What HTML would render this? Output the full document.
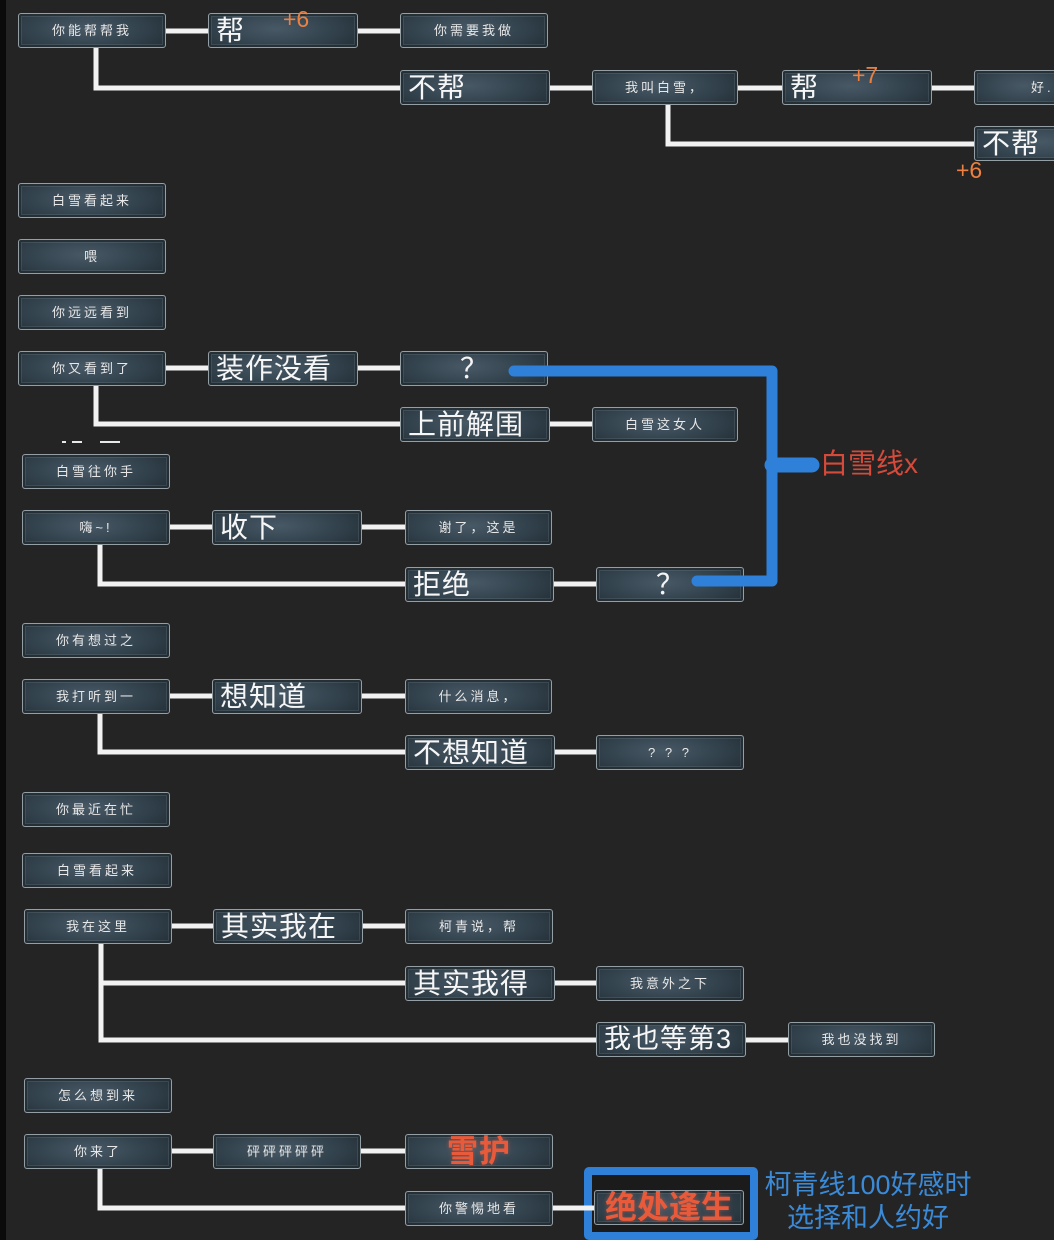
<!DOCTYPE html>
<html><head><meta charset="utf-8"><style>
html,body{margin:0;padding:0;}
body{width:1054px;height:1240px;position:relative;overflow:hidden;background:#242424;font-family:"Liberation Sans","Noto Sans CJK SC",sans-serif;}
.strip{position:absolute;left:0;top:0;width:6px;height:1240px;background:#0b0b0b;}
svg{position:absolute;left:0;top:0;}
.n{position:absolute;height:33px;border:1px solid #939ea5;border-radius:3px;box-sizing:content-box;
background:radial-gradient(ellipse 65% 90% at 45% 45%,#485966 0%,#34444f 55%,#25313a 100%);
box-shadow:inset 0 0 0 2px rgba(30,40,46,.8),inset 0 0 0 3px rgba(150,160,168,.18);
color:#e8e8e8;font-size:13px;letter-spacing:3px;line-height:33px;text-align:center;white-space:nowrap;overflow:hidden;}
.b{font-size:28px;letter-spacing:1px;text-align:left;padding-left:7px;width:141px!important;color:#f6f6f6;}
.q{font-size:28px;color:#f4f4f4;letter-spacing:0;}
.r{font-size:31px;font-weight:bold;color:#e85a3a;letter-spacing:1px;text-shadow:0 0 4px rgba(230,90,60,.5);}
.o{position:absolute;color:#ec8040;font-size:23px;line-height:23px;}
.mk{position:absolute;height:2px;background:#e8e8e8;}
</style></head><body>
<div class="strip"></div>
<svg width="1054" height="1240">
<g stroke="#f2f2f2" stroke-width="5" fill="none" stroke-linejoin="miter">
<path d="M166 31H208M356 31H400M96 48V88H400M548 88H592M738 88H782M930 88H974M668 104V144H974"/>
<path d="M166 368H208M356 368H400M96 385V424H400M548 424H592"/>
<path d="M170 527H212M360 527H405M100 544V584H405M552 584H596"/>
<path d="M170 696H212M360 696H405M100 713V752H405M552 752H596"/>
<path d="M172 926H213M361 926H405M101 943V1040H596M101 983H405M553 983H596M744 1040H788"/>
<path d="M172 1151H213M361 1151H405M100 1168V1208H405M553 1208H596"/>
</g>
</svg>
<div class="mk" style="left:62px;top:441px;width:4px"></div>
<div class="mk" style="left:72px;top:441px;width:10px"></div>
<div class="mk" style="left:100px;top:441px;width:20px"></div>

<!-- row 1 -->
<div class="n" style="left:18px;top:13px;width:146px">你能帮帮我</div>
<div class="n b" style="left:208px;top:13px">帮</div>
<div class="o" style="left:283px;top:8px">+6</div>
<div class="n" style="left:400px;top:13px;width:146px">你需要我做</div>
<div class="n b" style="left:400px;top:70px">不帮</div>
<div class="n" style="left:592px;top:70px;width:144px">我叫白雪，</div>
<div class="n b" style="left:782px;top:70px">帮</div>
<div class="o" style="left:852px;top:64px">+7</div>
<div class="n" style="left:974px;top:70px;width:110px;text-align:left;padding-left:56px;box-sizing:border-box;height:35px">好..</div>
<div class="n b" style="left:974px;top:126px">不帮</div>
<div class="o" style="left:956px;top:159px">+6</div>

<div class="n" style="left:18px;top:183px;width:146px">白雪看起来</div>
<div class="n" style="left:18px;top:239px;width:146px">喂</div>
<div class="n" style="left:18px;top:295px;width:146px">你远远看到</div>

<div class="n" style="left:18px;top:351px;width:146px">你又看到了</div>
<div class="n b" style="left:208px;top:351px">装作没看</div>
<div class="n q" style="left:400px;top:351px;width:146px">？</div>
<div class="n b" style="left:400px;top:407px">上前解围</div>
<div class="n" style="left:592px;top:407px;width:144px">白雪这女人</div>

<div class="n" style="left:22px;top:454px;width:146px">白雪往你手</div>
<div class="n" style="left:22px;top:510px;width:146px">嗨~!</div>
<div class="n b" style="left:212px;top:510px">收下</div>
<div class="n" style="left:405px;top:510px;width:145px">谢了，这是</div>
<div class="n b" style="left:405px;top:567px;width:140px!important">拒绝</div>
<div class="n q" style="left:596px;top:567px;width:146px">？</div>

<div class="n" style="left:22px;top:623px;width:146px">你有想过之</div>
<div class="n" style="left:22px;top:679px;width:146px">我打听到一</div>
<div class="n b" style="left:212px;top:679px">想知道</div>
<div class="n" style="left:405px;top:679px;width:145px">什么消息，</div>
<div class="n b" style="left:405px;top:735px">不想知道</div>
<div class="n" style="left:596px;top:735px;width:146px">? ? ?</div>

<div class="n" style="left:22px;top:792px;width:146px">你最近在忙</div>
<div class="n" style="left:22px;top:853px;width:148px">白雪看起来</div>
<div class="n" style="left:24px;top:909px;width:146px">我在这里</div>
<div class="n b" style="left:213px;top:909px">其实我在</div>
<div class="n" style="left:405px;top:909px;width:146px">柯青说，帮</div>
<div class="n b" style="left:405px;top:966px">其实我得</div>
<div class="n" style="left:596px;top:966px;width:146px">我意外之下</div>
<div class="n b" style="left:596px;top:1022px;font-size:27px">我也等第3</div>
<div class="n" style="left:788px;top:1022px;width:145px">我也没找到</div>

<div class="n" style="left:24px;top:1078px;width:146px">怎么想到来</div>
<div class="n" style="left:24px;top:1134px;width:146px">你来了</div>
<div class="n" style="left:213px;top:1134px;width:146px">砰砰砰砰砰</div>
<div class="n r" style="left:405px;top:1134px;width:146px">雪护</div>
<div class="n" style="left:405px;top:1191px;width:146px">你警惕地看</div>

<div style="position:absolute;left:584px;top:1167px;width:158px;height:57px;border:8px solid #2f80d8;border-radius:5px;background:#1b1b1b;"></div>
<svg width="1054" height="1240"><path d="M584 1208H596" stroke="#f2f2f2" stroke-width="5"/></svg>
<div class="n r" style="left:594px;top:1190px;width:148px;height:33px;font-size:32px;letter-spacing:0">绝处逢生</div>

<svg width="1054" height="1240">
<g stroke="#2f80d8" fill="none">
<path d="M514 371H772V581H697" stroke-width="11" stroke-linejoin="round" stroke-linecap="round"/>
<path d="M772 465H812" stroke-width="15" stroke-linecap="round"/>
</g>
</svg>
<div style="position:absolute;left:820px;top:448px;font-size:28px;line-height:32px;color:#d54a3a;">白雪线x</div>
<div style="position:absolute;left:758px;top:1169px;width:220px;text-align:center;font-size:27px;line-height:33px;color:#3a8ad8;">柯青线100好感时<br>选择和人约好</div>
</body></html>
